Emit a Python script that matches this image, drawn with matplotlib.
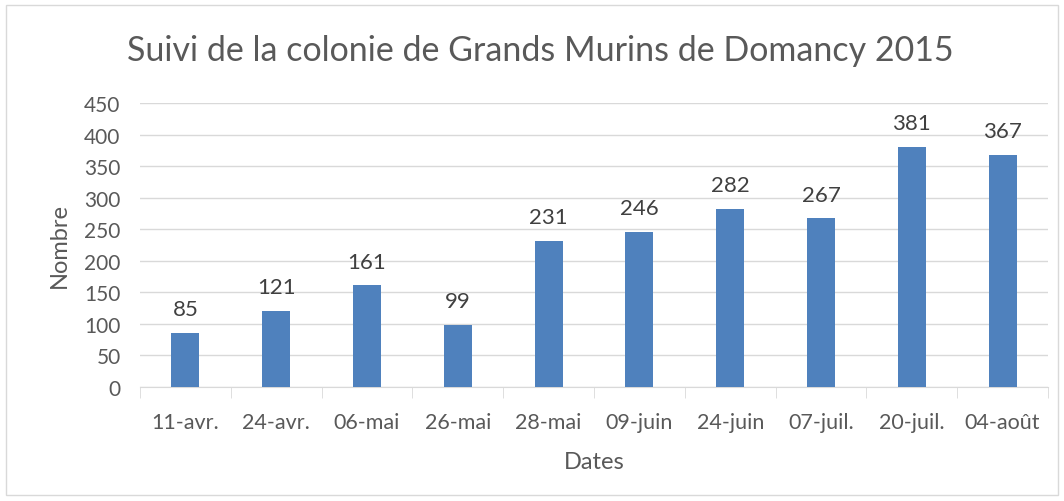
import matplotlib.pyplot as plt

dates = ["11-avr.", "24-avr.", "06-mai", "26-mai", "28-mai", "09-juin",
         "24-juin", "07-juil.", "20-juil.", "04-août"]
nombres = [85, 121, 161, 99, 231, 246, 282, 267, 381, 367]
yticks = [0, 50, 100, 150, 200, 250, 300, 350, 400, 450]

gris = "#595959"
plt.rcParams["font.family"] = ["Lato", "DejaVu Sans"]

fig = plt.figure(figsize=(10.64, 5.02), dpi=100)
ax = fig.add_axes([140 / 1064, 1 - 388 / 502, 908 / 1064, 284 / 502])

# bordure du graphique
fig.patches.append(plt.Rectangle((6 / 1064, 6 / 502), 1052 / 1064, 490 / 502,
                                 transform=fig.transFigure, fill=False,
                                 edgecolor="#d9d9d9", linewidth=1))

x = list(range(len(dates)))
barres = ax.bar(x, nombres, width=0.31, color="#4f81bd", zorder=3)
ax.bar_label(barres, padding=10, fontsize=16, color="#404040")

ax.set_xlim(-0.5, len(dates) - 0.5)
ax.set_ylim(0, 450)
ax.set_yticks(yticks)
ax.set_xticks(x)
ax.set_xticklabels(dates)
ax.set_xticks([i - 0.5 for i in range(len(dates) + 1)], minor=True)
ax.grid(axis="y", color="#d9d9d9", linewidth=1, zorder=0)
for s in ["top", "right", "left"]:
    ax.spines[s].set_visible(False)
ax.spines["bottom"].set_color("#d9d9d9")
ax.tick_params(axis="x", which="major", length=0, pad=18, labelsize=15.5, labelcolor=gris)
ax.tick_params(axis="x", which="minor", length=8, color="#d9d9d9")
ax.tick_params(axis="y", length=0, pad=14, labelsize=15, labelcolor=gris)

ax.set_xlabel("Dates", fontsize=17, color=gris, labelpad=14)
ax.set_ylabel("Nombre", fontsize=17, color=gris, labelpad=10)
fig.text(540 / 1064, 1 - 51 / 502, "Suivi de la colonie de Grands Murins de Domancy 2015",
         ha="center", va="center", fontsize=24.5, color=gris)

fig.savefig("out.png", dpi=100)
